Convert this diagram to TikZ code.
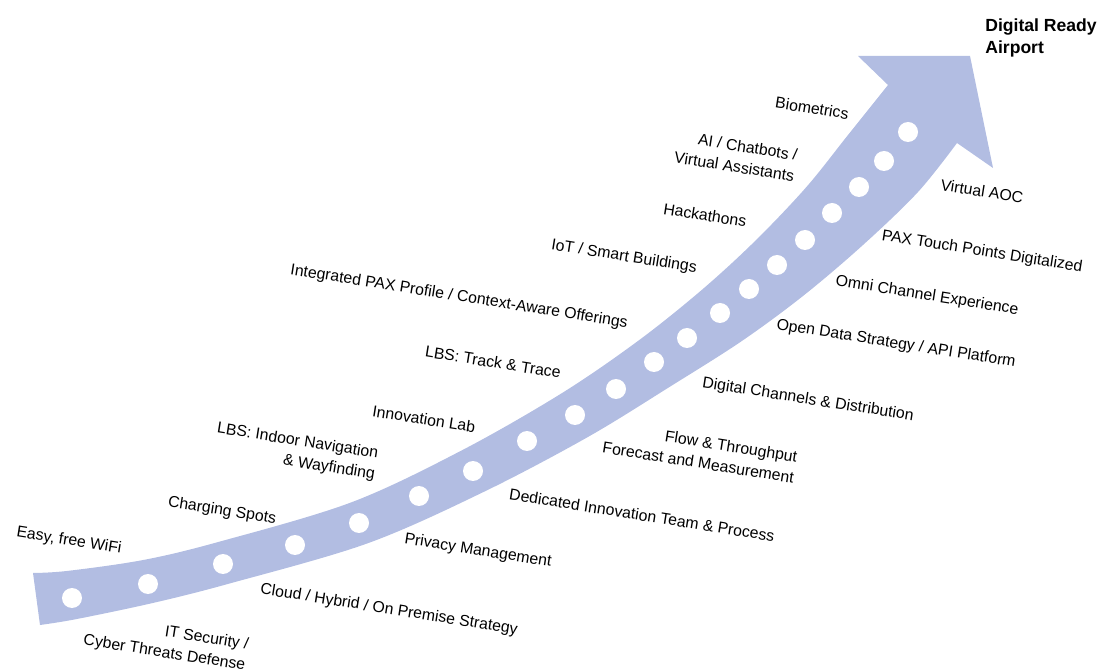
\documentclass[tikz,border=0pt]{standalone}
\usepackage{fontspec}
\setmainfont{Liberation Sans}
\definecolor{bandblue}{RGB}{178,189,226}

\begin{document}
\begin{tikzpicture}
	[x=0.02cm, y=-0.02cm,
	band/.style={fill=bandblue},
	dot/.style={circle,fill=white,inner sep=0pt,minimum size=4mm},
	lbl/.style={font=\fontsize{9}{12}\selectfont,inner sep=0pt,rotate=-9,align=right},
	title/.style={font=\fontsize{10}{13}\selectfont\bfseries,inner sep=0pt,align=left}]

	\useasboundingbox (0,0) rectangle (1104,671);

	% Arrow head
	\coordinate (NOTCHL) at (888,85);
	\coordinate (BARBL) at (858,56);
	\coordinate (TIP) at (970,56);
	\coordinate (BARBR) at (993,168);
	\coordinate (NOTCHR) at (957,143);

	% Draw band
	\fill[band] plot[smooth, tension=0.55] coordinates
		{(33,573) (67.6,570.9) (143.2,560) (217.5,542.2) (350.9,502.5)
		 (462.3,450.1) (562.1,393) (638.6,340.5) (701.8,289.9)
		 (755.6,240.5) (806.4,187) (848,135) (NOTCHL)}
		-- (BARBL) -- (TIP) -- (BARBR)
		-- plot[smooth, tension=0.55] coordinates
		{(NOTCHR) (918,192) (863.2,244.8) (803.6,295.5) (742,340.9)
		 (671.2,385.9) (587.9,437) (483.7,491.9) (367.1,543.5)
		 (228.5,583.8) (152.8,603) (76.4,619.1) (40,625)}
		-- cycle;

	% Create dots
	\foreach \x/\y [count=\i] in {72/598, 148/584, 223/564, 295/545, 359/523,
		419/496, 473/471, 527/441, 575/415, 616/389, 654/362, 687/338,
		720/313, 749/289, 777/265, 805/240, 832/213, 859/187, 884/161, 908/132}
		\node[dot] (d\i) at (\x,\y) {};

	% Labels above
	\node[lbl] (wifi) at (69,541) {Easy, free WiFi};
	\node[lbl] (charging) at (222,511) {Charging Spots};
	\node[lbl] (indoor) at (296,452) {LBS: Indoor Navigation\\\& Wayfinding};
	\node[lbl] (lab) at (424,419) {Innovation Lab};
	\node[lbl] (track) at (493,362) {LBS: Track \& Trace};
	\node[lbl] (profile) at (459,297) {Integrated PAX Profile / Context-Aware Offerings};
	\node[lbl] (iot) at (624,257) {IoT / Smart Buildings};
	\node[lbl] (hack) at (705,215) {Hackathons};
	\node[lbl] (chat) at (736,156) {AI / Chatbots /\\Virtual Assistants};
	\node[lbl] (bio) at (812,108) {Biometrics};

	% Labels below
	\node[lbl] (itsec) at (166,643) {IT Security /\\Cyber Threats Defense};
	\node[lbl] (cloud) at (389,610) {Cloud / Hybrid / On Premise Strategy};
	\node[lbl] (privacy) at (478,551) {Privacy Management};
	\node[lbl] (team) at (642,515) {Dedicated Innovation Team \& Process};
	\node[lbl] (flow) at (700,452) {Flow \& Throughput\\Forecast and Measurement};
	\node[lbl] (channels) at (808,400) {Digital Channels \& Distribution};
	\node[lbl] (opendata) at (896,344) {Open Data Strategy / API Platform};
	\node[lbl] (omni) at (927,296) {Omni Channel Experience};
	\node[lbl] (pax) at (982,252) {PAX Touch Points Digitalized};
	\node[lbl] (aoc) at (982,191) {Virtual AOC};

	% Goal
	\node[title, anchor=north west] (goal) at (985,18) {Digital Ready\\Airport};

\end{tikzpicture}
\end{document}
